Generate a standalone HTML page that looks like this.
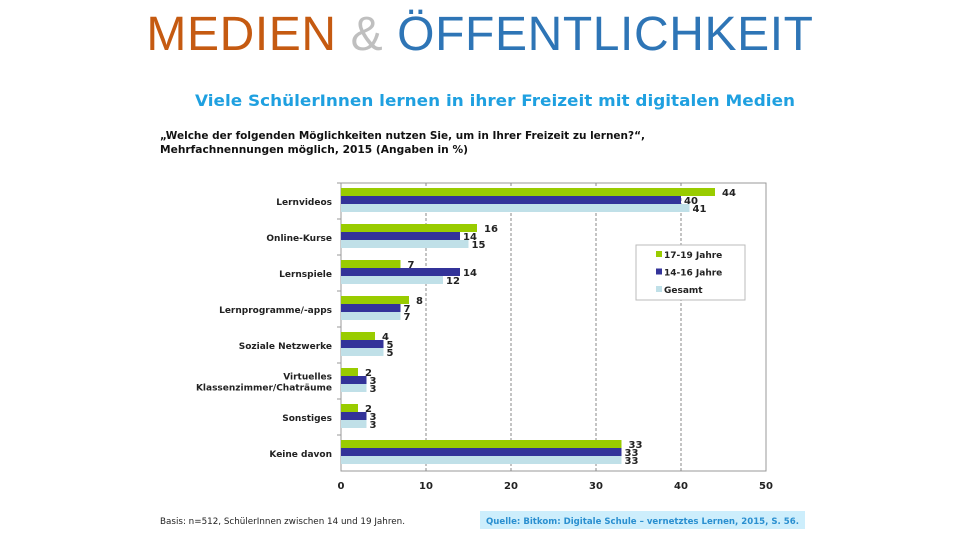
<!DOCTYPE html>
<html><head><meta charset="utf-8">
<style>
body{margin:0;width:960px;height:540px;background:#fff;overflow:hidden;font-family:"Liberation Sans","DejaVu Sans",sans-serif;}
#title{position:absolute;left:0;width:960px;top:7px;text-align:center;font-size:48px;letter-spacing:0.6px;font-family:"Liberation Sans",sans-serif;}
svg{position:absolute;left:0;top:0;font-family:"DejaVu Sans",sans-serif;}
</style></head>
<body>
<div id="title"><span style="color:#c55a11">MEDIEN</span> <span style="color:#bfbfbf">&amp;</span> <span style="color:#2e75b6">ÖFFENTLICHKEIT</span></div>
<svg id="chart" width="960" height="540"></svg>
<script>
const categories=["Lernvideos","Online-Kurse","Lernspiele","Lernprogramme/-apps","Soziale Netzwerke","Virtuelles|Klassenzimmer/Chaträume","Sonstiges","Keine davon"];
const s1719=[44,16,7,8,4,2,2,33];
const s1416=[40,14,14,7,5,3,3,33];
const gesamt=[41,15,12,7,5,3,3,33];
const seriesNames=["17-19 Jahre","14-16 Jahre","Gesamt"];
const xTicks=[0,10,20,30,40,50];
const colors=["#99cc00","#333399","#c0e0e8"];
const NS="http://www.w3.org/2000/svg";
const svg=document.getElementById('chart');
const x0=341,x1=766,plotTop=183,plotBot=471;
const xs=v=>x0+(v/50)*(x1-x0);
const band=(plotBot-plotTop)/categories.length;
function el(t,a,p){const e=document.createElementNS(NS,t);for(const k in a)e.setAttribute(k,a[k]);(p||svg).appendChild(e);return e;}
let t=el('text',{x:195,y:106,fill:'#1fa0e0','font-size':'16','font-weight':'bold',textLength:600,lengthAdjust:'spacingAndGlyphs'});t.textContent="Viele SchülerInnen lernen in ihrer Freizeit mit digitalen Medien";


t=el('text',{x:160,y:139,fill:'#111','font-size':'10.5','font-weight':'bold',textLength:485,lengthAdjust:'spacingAndGlyphs'});t.textContent="„Welche der folgenden Möglichkeiten nutzen Sie, um in Ihrer Freizeit zu lernen?“,";


t=el('text',{x:160,y:153,fill:'#111','font-size':'10.5','font-weight':'bold',textLength:308,lengthAdjust:'spacingAndGlyphs'});t.textContent="Mehrfachnennungen möglich, 2015 (Angaben in %)";


let r=el('rect',{x:x0,y:plotTop,width:x1-x0,height:plotBot-plotTop,fill:'#fff',stroke:'#999','stroke-width':1});


xTicks.forEach(v=>{
 if(v>0&&v<50){let l=el('line',{x1:xs(v),x2:xs(v),y1:plotTop,y2:plotBot,stroke:'#888','stroke-dasharray':'3,2','stroke-width':1});
 
 }
 let tt=el('text',{x:xs(v),y:plotBot+18,'text-anchor':'middle','font-size':'10','font-weight':'bold',fill:'#222'});tt.textContent=v;
 
 
});
const series=[s1719,s1416,gesamt];
categories.forEach((c,i)=>{
 const bt=plotTop+i*band;
 let tk=el('line',{x1:x0-4,x2:x0,y1:bt,y2:bt,stroke:'#999'});
 
 
 const lines=c.split('|');
 lines.forEach((ln,j)=>{
  let lt=el('text',{x:332,y:bt+band/2+4+(j-(lines.length-1)/2)*11,'text-anchor':'end','font-size':'9','font-weight':'bold',fill:'#222'});lt.textContent=ln;
  
  
 });
 series.forEach((s,k)=>{
  const y=bt+5+k*8;
  let b=el('rect',{x:x0,y:y,width:xs(s[i])-x0,height:8,fill:colors[k]});
  
  
  let v=el('text',{x:xs(s[i])+(k==0?7:3),y:y+8,'font-size':'10','font-weight':'bold',fill:'#222'});v.textContent=s[i];
  
  
 });
});
let lg=el('g',{});


el('rect',{x:636,y:245,width:109,height:55,fill:'#fff',stroke:'#bbb'},lg);
seriesNames.forEach((n,k)=>{
 let e=el('rect',{x:656,y:251+k*17.5,width:6,height:6,fill:colors[k]},lg);
 
 
 let tx=el('text',{x:664,y:258+k*17.5,'font-size':'9','font-weight':'bold',fill:'#222'},lg);tx.textContent=n;
 
 
});
t=el('text',{x:160,y:524,'font-size':'9',fill:'#222',textLength:245,lengthAdjust:'spacingAndGlyphs'});t.textContent="Basis: n=512, SchülerInnen zwischen 14 und 19 Jahren.";


r=el('rect',{x:480,y:511,width:325,height:18,fill:'#cdeefc'});


t=el('text',{x:486,y:524,'font-size':'9','font-weight':'bold',fill:'#2a8fd0',textLength:313,lengthAdjust:'spacingAndGlyphs'});t.textContent="Quelle: Bitkom: Digitale Schule – vernetztes Lernen, 2015, S. 56.";


</script>
</body></html>
